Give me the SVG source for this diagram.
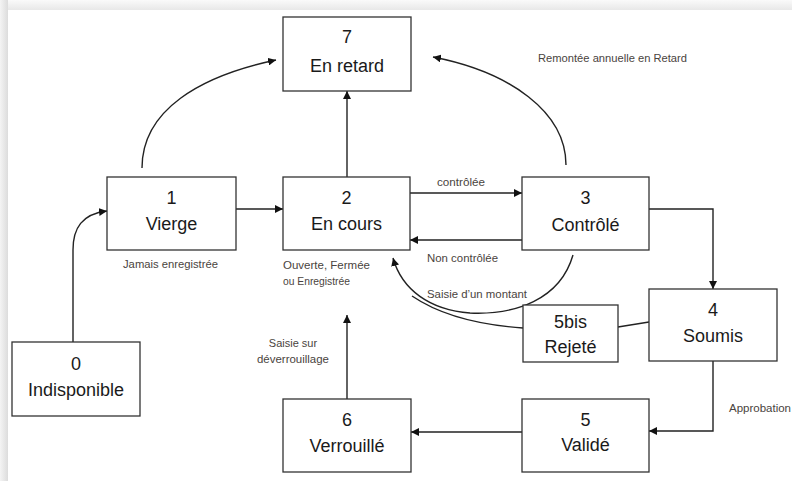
<svg xmlns="http://www.w3.org/2000/svg" width="792" height="481" viewBox="0 0 792 481">
<defs>
<linearGradient id="gl" x1="0" y1="0" x2="1" y2="0"><stop offset="0" stop-color="#f4f4f4"/><stop offset="1" stop-color="#dcdcdc"/></linearGradient>
<linearGradient id="gt" x1="0" y1="0" x2="0" y2="1"><stop offset="0" stop-color="#fafafa"/><stop offset="1" stop-color="#e8e8e8"/></linearGradient>
<marker id="ah" viewBox="0 0 10 10" refX="10" refY="5" markerWidth="8" markerHeight="8" markerUnits="userSpaceOnUse" orient="auto"><path d="M0,0 L10,5 L0,10 Z" fill="#111"/></marker>
<style>
.box{fill:#fff;stroke:#333;stroke-width:1.3}
.big{font-family:"Liberation Sans",Arial,sans-serif;font-size:18px;fill:#1a1a1a;text-anchor:middle}
.sm{font-family:"Liberation Sans",Arial,sans-serif;font-size:11px;fill:#4a4440}
.ln{fill:none;stroke:#222;stroke-width:1.4}
.arr{marker-end:url(#ah)}
</style>
</defs>
<rect x="0" y="0" width="792" height="481" fill="#fff"/>
<rect x="0" y="0" width="792" height="10" fill="url(#gt)"/>
<rect x="0" y="0" width="8" height="481" fill="url(#gl)"/>

<g id="connectors">
<path class="ln arr" d="M73,342 L73,250 C73,228 82,214 107,211"/>
<path class="ln arr" d="M142,168 C142,110 200,76 276,60"/>
<path class="ln arr" d="M347,177 L347,91"/>
<path class="ln arr" d="M236,209 L283,209"/>
<path class="ln arr" d="M566,165 C566,112 510,72 433,57"/>
<path class="ln arr" d="M410,193 L522,193"/>
<path class="ln arr" d="M522,240 L410,240"/>
<path class="ln arr" d="M649,209 L713,209 L713,289"/>
<path class="ln arr" d="M573,255 C560,300 515,315 470,313 C430,310 402,290 393,258"/>
<path class="ln" d="M523,328 C480,325 440,315 412,296"/>
<path class="ln" d="M618,327 L649,322"/>
<path class="ln arr" d="M713,361 L713,431 L649,431"/>
<path class="ln arr" d="M522,432 L411,432"/>
<path class="ln arr" d="M347,399 L347,315"/>
</g>

<g id="node7"><rect class="box" x="283" y="17" width="128" height="74"/><text class="big" x="347" y="43">7</text><text class="big" x="347" y="72">En retard</text></g>
<g id="node1"><rect class="box" x="107" y="177" width="129" height="73"/><text class="big" x="171.5" y="204">1</text><text class="big" x="171.5" y="230">Vierge</text></g>
<g id="node2"><rect class="box" x="283" y="177" width="127" height="73"/><text class="big" x="346.5" y="204">2</text><text class="big" x="346.5" y="230">En cours</text></g>
<g id="node3"><rect class="box" x="522" y="177" width="127" height="73"/><text class="big" x="585.5" y="204">3</text><text class="big" x="585.5" y="231">Contrôlé</text></g>
<g id="node4"><rect class="box" x="649" y="289" width="128" height="72"/><text class="big" x="713" y="316">4</text><text class="big" x="713" y="342">Soumis</text></g>
<g id="node5bis"><rect class="box" x="523" y="305" width="95" height="57"/><text class="big" x="570.5" y="328">5bis</text><text class="big" x="570.5" y="353">Rejeté</text></g>
<g id="node5"><rect class="box" x="522" y="399" width="127" height="73"/><text class="big" x="585.5" y="426">5</text><text class="big" x="585.5" y="451">Validé</text></g>
<g id="node6"><rect class="box" x="283" y="399" width="128" height="73"/><text class="big" x="347" y="426">6</text><text class="big" x="347" y="452">Verrouillé</text></g>
<g id="node0"><rect class="box" x="12" y="342" width="128" height="74"/><text class="big" x="76" y="370">0</text><text class="big" x="76" y="396">Indisponible</text></g>

<g id="labels">
<text class="sm" x="538" y="62" textLength="149" lengthAdjust="spacingAndGlyphs">Remontée annuelle en Retard</text>
<text class="sm" x="437" y="186" textLength="48" lengthAdjust="spacingAndGlyphs">contrôlée</text>
<text class="sm" x="427" y="262" textLength="71" lengthAdjust="spacingAndGlyphs">Non contrôlée</text>
<text class="sm" x="283" y="269" textLength="87" lengthAdjust="spacingAndGlyphs">Ouverte, Fermée</text>
<text class="sm" x="283" y="285" textLength="67" lengthAdjust="spacingAndGlyphs">ou Enregistrée</text>
<text class="sm" x="427" y="298" textLength="100" lengthAdjust="spacingAndGlyphs">Saisie d’un montant</text>
<text class="sm" x="123" y="268" textLength="95" lengthAdjust="spacingAndGlyphs">Jamais enregistrée</text>
<text class="sm" x="293" y="347" text-anchor="middle">Saisie sur</text>
<text class="sm" x="257" y="363" textLength="72" lengthAdjust="spacingAndGlyphs">déverrouillage</text>
<text class="sm" x="729" y="412" textLength="62" lengthAdjust="spacingAndGlyphs">Approbation</text>
</g>
</svg>
